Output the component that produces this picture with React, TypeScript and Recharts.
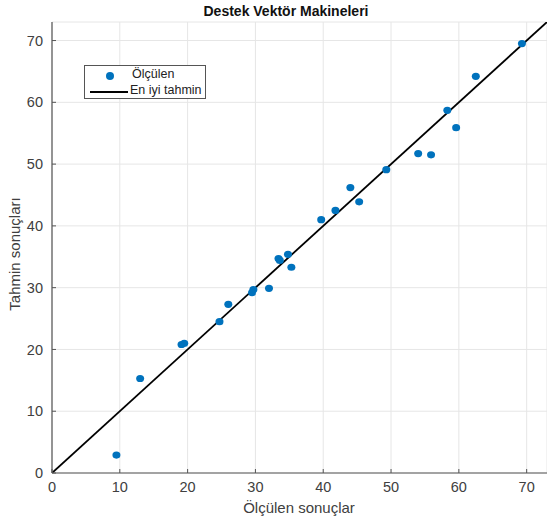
import React from "react";
import { ScatterChart, Scatter, XAxis, YAxis, CartesianGrid, ReferenceLine, Label } from "recharts";

const measured = [9.5, 13.0, 19.1, 19.5, 24.7, 26.0, 29.5, 29.7, 32.0, 33.4, 33.6, 34.8, 35.3, 39.7, 41.8, 44.0, 45.3, 49.3, 54.0, 55.9, 58.3, 59.6, 62.5, 69.3];
const predicted = [2.9, 15.3, 20.8, 21.0, 24.5, 27.3, 29.2, 29.7, 29.9, 34.7, 34.4, 35.4, 33.3, 41.0, 42.5, 46.2, 43.9, 49.1, 51.7, 51.5, 58.7, 55.9, 64.2, 69.5];
const fitRange = [0, 73];
const ticks = [0, 10, 20, 30, 40, 50, 60, 70];

const points = measured.map((x, i) => ({ x, y: predicted[i] }));

const FONT = "'Liberation Sans', Arial, sans-serif";
const TXT = "#404040";

const LegendBox = () => (
  <div style={{ position: "absolute", left: 84, top: 65, border: "1px solid #555", background: "#fff", width: 122, height: 34, fontFamily: FONT, fontSize: 12.5, color: "#222", boxSizing: "border-box" }}>
    <div style={{ position: "absolute", left: 21, top: 6, width: 8, height: 8, borderRadius: 4, background: "#0072BD" }} />
    <div style={{ position: "absolute", left: 47, top: 1 }}>Ölçülen</div>
    <div style={{ position: "absolute", left: 5, top: 25, width: 38, height: 1.5, background: "#000" }} />
    <div style={{ position: "absolute", left: 45, top: 17 }}>En iyi tahmin</div>
  </div>
);

export default function App() {
  return (
    <div style={{ position: "absolute", left: 0, top: 0, width: 547, height: 521, background: "#fff" }}>
      <ScatterChart width={547} height={521} margin={{ top: 22, right: 0, left: 0, bottom: 0 }}>
        <CartesianGrid stroke="#e6e6e6" strokeWidth={1} />
        <XAxis
          type="number"
          dataKey="x"
          domain={[0, 73]}
          ticks={ticks}
          allowDataOverflow
          height={48}
          tickLine={{ stroke: "#555" }}
          tickSize={-4}
          tickMargin={13}
          axisLine={{ stroke: "#555", strokeWidth: 1.2 }}
          tick={{ fill: TXT, fontSize: 14.5, fontFamily: FONT }}
        >
          <Label
            content={() => (
              <text x={299} y={513} textAnchor="middle" fill={TXT} fontSize={15} fontFamily={FONT}>
                Ölçülen sonuçlar
              </text>
            )}
          />
        </XAxis>
        <YAxis
          type="number"
          dataKey="y"
          domain={[0, 73]}
          ticks={ticks}
          allowDataOverflow
          width={52}
          tickLine={{ stroke: "#555" }}
          tickSize={-4}
          tickMargin={13}
          axisLine={{ stroke: "#555", strokeWidth: 1.2 }}
          tick={{ fill: TXT, fontSize: 14.5, fontFamily: FONT }}
        >
          <Label
            content={() => (
              <text x={20} y={254} transform="rotate(-90 20 254)" textAnchor="middle" fill={TXT} fontSize={15} fontFamily={FONT}>
                Tahmin sonuçları
              </text>
            )}
          />
        </YAxis>
        <ReferenceLine
          segment={[{ x: fitRange[0], y: fitRange[0] }, { x: fitRange[1], y: fitRange[1] }]}
          stroke="#000"
          strokeWidth={1.8}
          ifOverflow="hidden"
        />
        <Scatter
          data={points}
          fill="#0072BD"
          isAnimationActive={false}
          shape={(props: any) => <ellipse cx={props.cx} cy={props.cy} rx={4} ry={3.6} fill="#0072BD" />}
        />
      </ScatterChart>
      <div style={{ position: "absolute", left: 286 - 150, top: 3, width: 300, textAlign: "center", fontFamily: FONT, fontWeight: "bold", fontSize: 14, color: "#111" }}>
        Destek Vektör Makineleri
      </div>
      <LegendBox />
    </div>
  );
}
